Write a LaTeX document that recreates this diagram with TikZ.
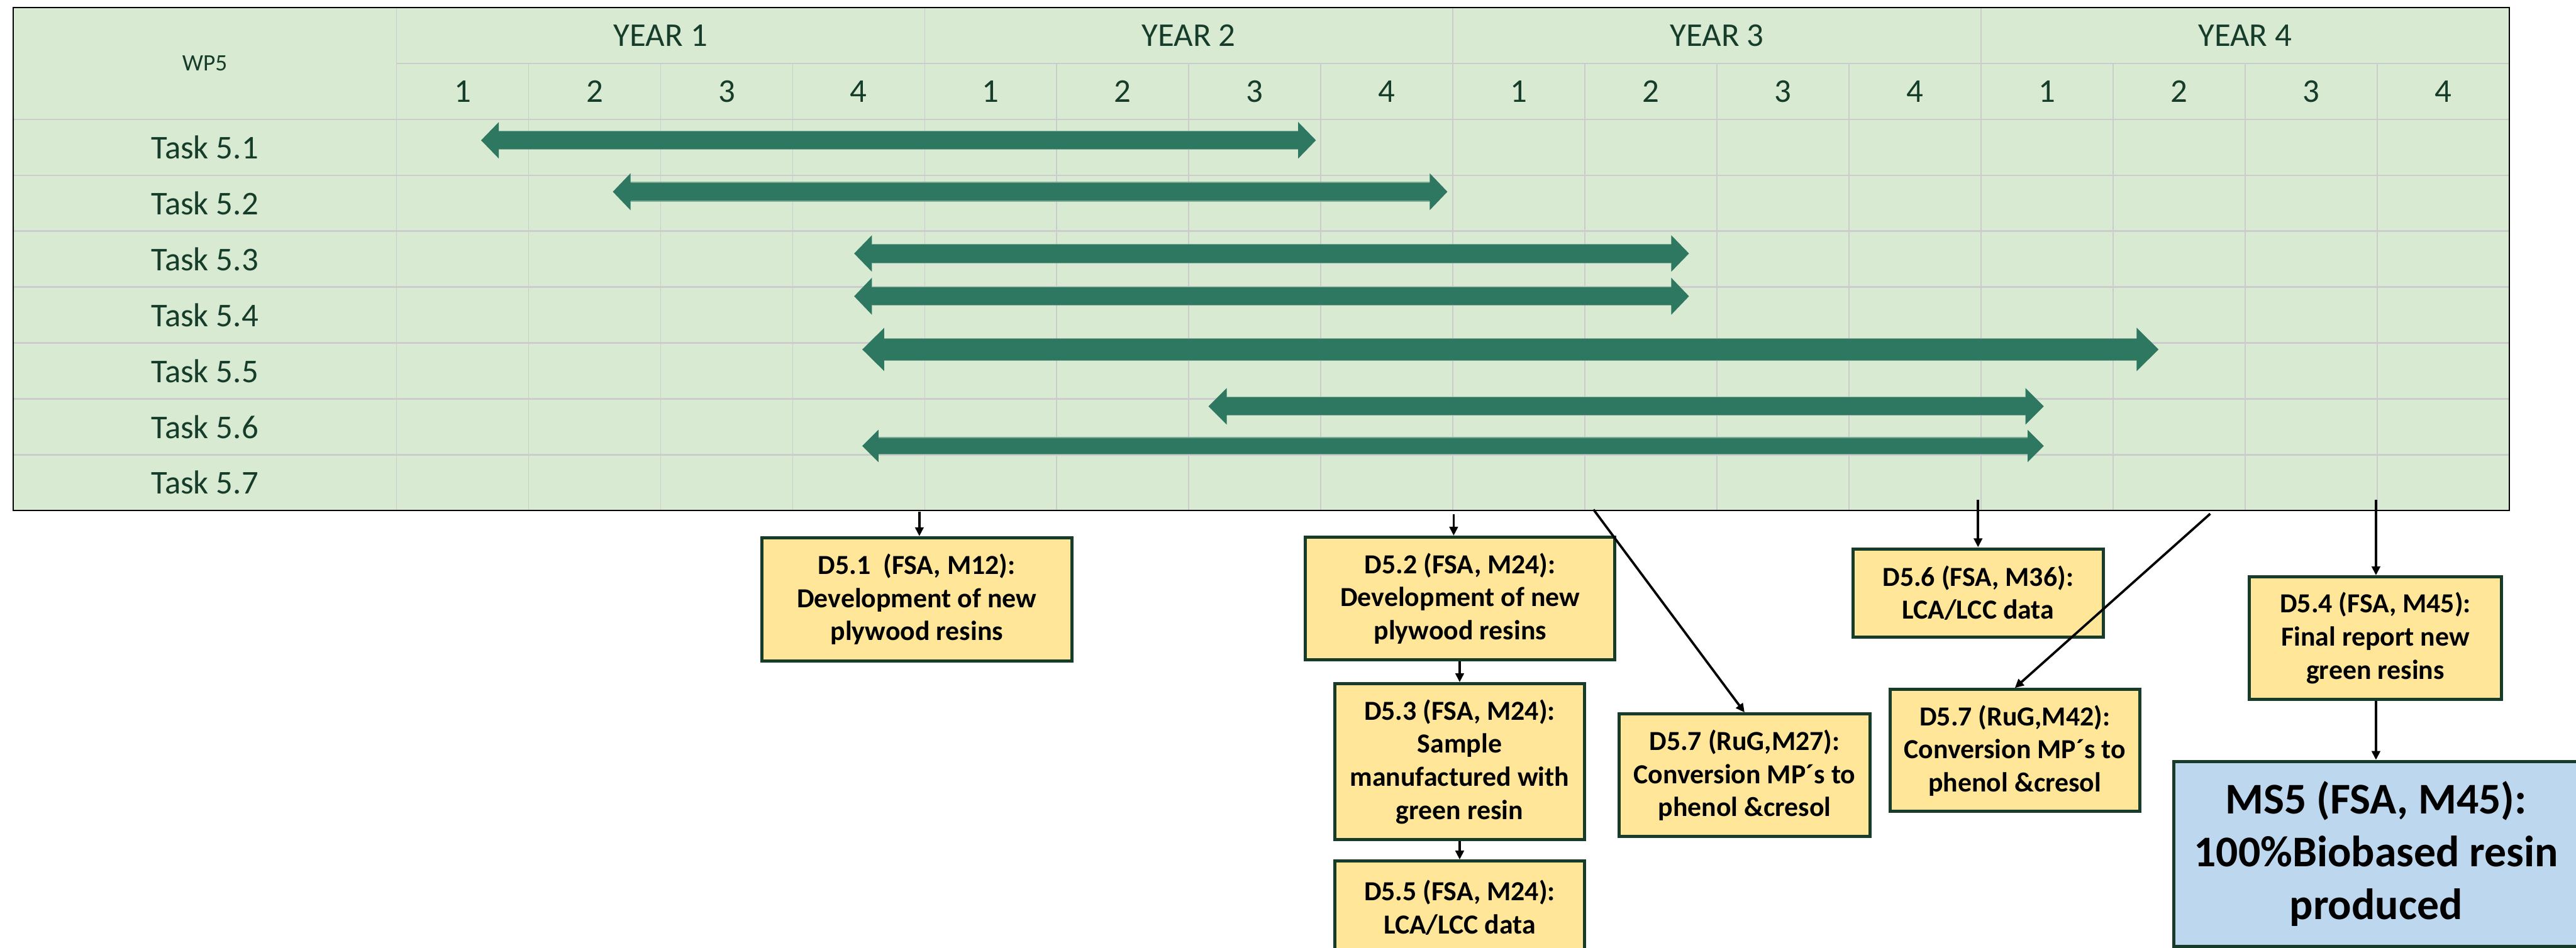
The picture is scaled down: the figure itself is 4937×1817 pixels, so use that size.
\documentclass[tikz,border=0pt]{standalone}
\usepackage{fontspec}
\setmainfont{Carlito}
\usetikzlibrary{arrows.meta}
\definecolor{tabbg}{RGB}{217,234,211}
\definecolor{gridc}{RGB}{204,204,204}
\definecolor{bargreen}{RGB}{46,119,96}
\definecolor{baredge}{RGB}{125,170,148}
\definecolor{tabtext}{RGB}{22,60,42}
\definecolor{boxline}{RGB}{24,60,42}
\definecolor{boxfill}{RGB}{255,230,153}
\definecolor{msfill}{RGB}{189,215,238}
\newcommand{\ganttbar}[6]{%
  \fill[bargreen] (#1,#3) -- ({#1+#6},{#3-#5}) -- ({#1+#6},{#3-#4}) -- ({#2-#6},{#3-#4}) -- ({#2-#6},{#3-#5}) -- (#2,#3) -- ({#2-#6},{#3+#5}) -- ({#2-#6},{#3+#4}) -- ({#1+#6},{#3+#4}) -- ({#1+#6},{#3+#5}) -- cycle;
  \draw[baredge, line width=0.3pt] ({#1+#6},{#3-#4}) -- ({#2-#6},{#3-#4});
  \draw[baredge, line width=0.3pt] ({#1+#6},{#3+#4}) -- ({#2-#6},{#3+#4});
}
\begin{document}
\begin{tikzpicture}[x=0.2pt,y=-0.2pt,
  hl/.style={draw=gridc, line width=0.6pt},
  vl/.style={draw=gridc, line width=0.4pt},
  tabtxt/.style={font=\fontsize{12.74}{15}\selectfont, text=tabtext, inner sep=0pt},
  dbox/.style={draw=boxline, line width=1.2pt, fill=boxfill, align=center, inner sep=0pt,
    font=\bfseries\fontsize{10.56}{12.7}\selectfont},
  msbox/.style={dbox, fill=msfill, font=\bfseries\fontsize{16.8}{20.3}\selectfont},
  conn/.style={draw=black, line width=0.9pt, -{Triangle[length=3.4pt,width=3.2pt]}}]
\useasboundingbox (0,0) rectangle (4937,1817);
\clip (0,0) rectangle (4937,1817);
\fill[white] (0,0) rectangle (4937,1817);

% table
\fill[tabbg] (25,14.5) rectangle (4809,979);
\foreach \j in {1,...,15} \draw[vl] ({760+253.06*\j},121.7) -- ({760+253.06*\j},979);
\foreach \j in {4,8,12} \draw[vl] ({760+253.06*\j},14.5) -- ({760+253.06*\j},121.7);
\draw[vl] (760,14.5) -- (760,979);
\draw[hl] (760,121.7) -- (4809,121.7);
\foreach \r in {2,...,8} \draw[hl] (25,{14.5+107.17*\r}) -- (4809,{14.5+107.17*\r});

% gantt bars
\ganttbar{922}{2522}{269}{17.5}{35}{34}
\ganttbar{1174.5}{2774}{367.6}{18}{35.5}{34}
\ganttbar{1637}{3237}{486}{18}{35}{34}
\ganttbar{1637}{3237}{568}{17.5}{35.5}{34}
\ganttbar{1652.6}{4137}{670}{21}{41.5}{42}
\ganttbar{2316}{3917}{779}{17.5}{35}{35}
\ganttbar{1652.6}{3917}{855}{16}{31}{31}

% labels
\node[tabtxt, font=\fontsize{9}{11}\selectfont] (wp) at (392.5,121.7) {WP5};
\foreach \i in {1,...,4} \node[tabtxt] (y\i) at ({760+253.06*(4*\i-2)},68.1) {YEAR \i};
\foreach \j in {0,...,15} {
  \pgfmathtruncatemacro\qn{mod(\j,4)+1}
  \node[tabtxt] (q\j) at ({760+253.06*(\j+0.5)},175.25) {\qn};
}
\foreach \k in {1,...,7} \node[tabtxt] (t\k) at (392.5,{14.5+107.17*(\k+1.5)}) {Task 5.\k};

\draw[black, line width=0.5pt] (25,14.5) rectangle (4809,979);

% deliverable boxes
\node[dbox, minimum width=118.8pt, minimum height=47.2pt] (d51) at (1757,1149) {D5.1\ \ (FSA, M12):\\Development of new\\plywood resins};
\node[dbox, minimum width=118.6pt, minimum height=47pt] (d52) at (2798.5,1147.5) {D5.2 (FSA, M24):\\Development of new\\plywood resins};
\node[dbox, minimum width=95.8pt, minimum height=59.8pt] (d53) at (2797.5,1460.5) {D5.3 (FSA, M24):\\Sample\\manufactured with\\green resin};
\node[dbox, minimum width=95.8pt, minimum height=35.6pt] (d55) at (2797.5,1740) {D5.5 (FSA, M24):\\LCA/LCC data};
\node[dbox, minimum width=96.2pt, minimum height=47pt] (d57a) at (3343.5,1486.5) {D5.7 (RuG,M27):\\Conversion MP´s to\\phenol \&cresol};
\node[dbox, minimum width=96pt, minimum height=33.9pt] (d56) at (3791,1137) {D5.6 (FSA, M36):\\LCA/LCC data};
\node[dbox, minimum width=95.8pt, minimum height=46.8pt] (d57b) at (3861.5,1439) {D5.7 (RuG,M42):\\Conversion MP´s to\\phenol \&cresol};
\node[dbox, minimum width=96.6pt, minimum height=47pt] (d54) at (4552.5,1223.5) {D5.4 (FSA, M45):\\Final report new\\green resins};
\node[msbox, minimum width=155.2pt, minimum height=70.8pt] (ms5) at (4554,1637) {MS5 (FSA, M45):\\100\%Biobased resin\\produced};

% connectors
\coordinate (s1) at (1762,981);
\coordinate (s2) at (2786,986);
\coordinate (s5) at (3054,977);
\coordinate (s6) at (3791,958);
\coordinate (s7) at (4236,985);
\coordinate (s8) at (4553.6,958);
\draw[conn] (s1) -- (s1 |- d51.north);
\draw[conn] (s2) -- (s2 |- d52.north);
\draw[conn] (d53.north |- d52.south) -- (d53.north);
\draw[conn] (d53.south) -- (d55.north);
\draw[conn] (s5) -- (d57a.north);
\draw[conn] (s6) -- (s6 |- d56.north);
\draw[conn] (s7) -- (d57b.north);
\draw[conn] (s8) -- (s8 |- d54.north);
\draw[conn] (s8 |- d54.south) -- (s8 |- ms5.north);
\end{tikzpicture}
\end{document}
